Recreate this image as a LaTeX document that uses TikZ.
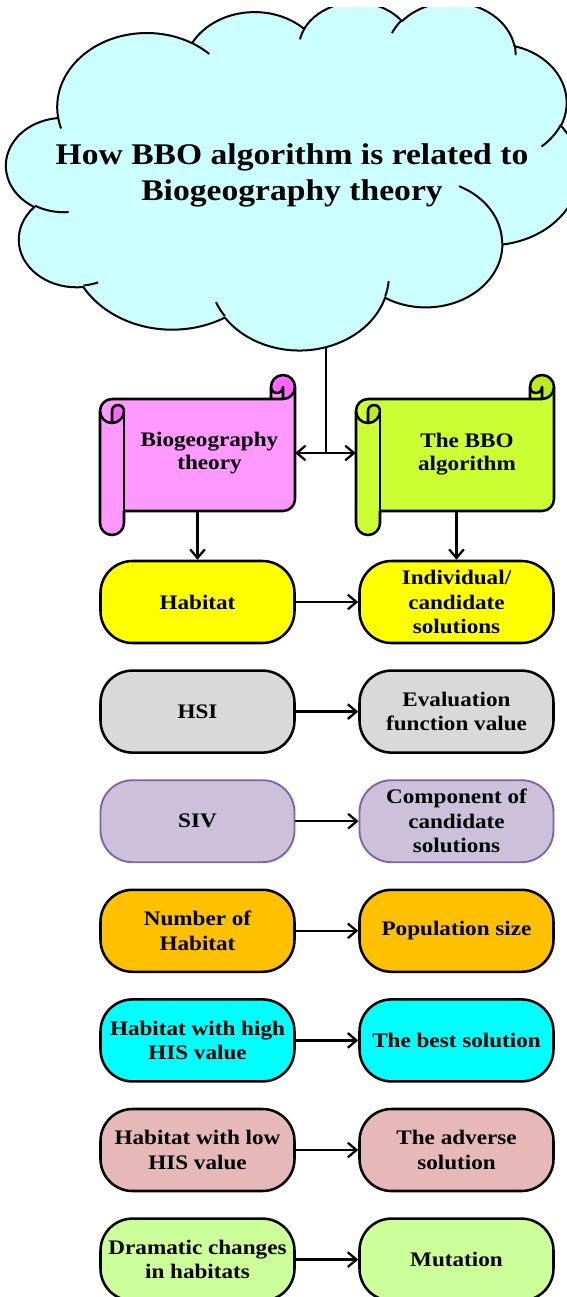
\documentclass[tikz,border=0pt]{standalone}
\usepackage{fontspec}
\setmainfont{Liberation Serif}[FakeStretch=1.12]
\usetikzlibrary{arrows.meta}

\definecolor{cloudfill}{HTML}{CCFFFF}
\definecolor{bioFill}{HTML}{FF99FF}
\definecolor{bioCurl}{HTML}{FF66FF}
\definecolor{bboFill}{HTML}{CCFF33}
\definecolor{bboCurl}{HTML}{BFEA1C}
\definecolor{rowA}{HTML}{FFFF00}
\definecolor{rowB}{HTML}{D9D9D9}
\definecolor{rowC}{HTML}{CCC0DA}
\definecolor{rowCline}{HTML}{8064A2}
\definecolor{rowD}{HTML}{FFC000}
\definecolor{rowE}{HTML}{00FFFF}
\definecolor{rowF}{HTML}{E6B9B8}
\definecolor{rowG}{HTML}{CCFF99}

% elliptical arc whose angles are visual (point) angles, as in DrawingML
\def\cloudarc#1#2#3#4{arc[start angle={atan2((#1)*sin(#3),(#2)*cos(#3))},
  delta angle={mod(atan2((#1)*sin((#3)+(#4)),(#2)*cos((#3)+(#4)))-atan2((#1)*sin(#3),(#2)*cos(#3))+720,360)},
  x radius=#1, y radius=#2]}

% horizontal scroll: #1 left, #2 top, #3 width, #4 height, #5 fill, #6 curl fill
\newcommand\scrollart[6]{%
  \begin{scope}[shift={(#1,#2)}]
    \def\sW{#3}\def\sH{#4}
    \fill[#5] (\sW,12) arc[start angle=0,delta angle=90,radius=12] -- (\sW-12,12)
      arc[start angle=0,delta angle=180,radius=6] -- (\sW-24,24) -- (12,24)
      arc[start angle=270,delta angle=-90,radius=12] -- (0,\sH-12)
      arc[start angle=180,delta angle=-180,radius=12] -- (24,\sH-24) -- (\sW-12,\sH-24)
      arc[start angle=90,delta angle=-90,radius=12] -- cycle;
    \fill[#6] (12,48) arc[start angle=90,delta angle=-90,radius=12]
      arc[start angle=0,delta angle=-180,radius=6] -- cycle;
    \fill[#6] (\sW-12,24) arc[start angle=90,delta angle=-270,radius=12]
      arc[start angle=180,delta angle=-180,radius=6] -- cycle;
    \draw[scrollline] (0,36) arc[start angle=180,delta angle=90,radius=12] -- (\sW-24,24) -- (\sW-24,12)
      arc[start angle=180,delta angle=180,radius=12] -- (\sW,\sH-36)
      arc[start angle=0,delta angle=90,radius=12] -- (24,\sH-24) -- (24,\sH-12)
      arc[start angle=0,delta angle=180,radius=12] -- cycle;
    \draw[scrollline] (\sW-24,24) -- (\sW-12,24) arc[start angle=90,delta angle=-90,radius=12];
    \draw[scrollline] (\sW-12,24) -- (\sW-12,12) arc[start angle=0,delta angle=180,radius=6];
    \draw[scrollline] (12,48) -- (12,36) arc[start angle=180,delta angle=180,radius=6]
      arc[start angle=0,delta angle=180,radius=12];
    \draw[scrollline] (24,36) -- (24,\sH-24);
  \end{scope}}

\tikzset{
  scrollline/.style={line width=1.9pt, line join=round},
  pill/.style={draw=black, line width=1.9pt, rounded corners=24pt,
    minimum width=145.5pt, minimum height=61.5pt, inner sep=1pt, align=center,
    font=\fontsize{15.5}{18.4}\selectfont\bfseries},
  scrolltext/.style={inner sep=0pt, align=center,
    font=\fontsize{15.5}{17}\selectfont\bfseries},
  frame/.style={inner sep=0pt, minimum width=146pt, minimum height=120pt},
  wire/.style={line width=1.7pt},
  tip/.style={Straight Barb[length=6.5pt,width=11pt]},
  link/.style={line width=1.7pt, -{Straight Barb[length=6.5pt,width=11pt]}},
  twoway/.style={line width=1.7pt, {Straight Barb[length=6.5pt,width=11pt]}-{Straight Barb[length=6.5pt,width=11pt]}}
}

\begin{document}
\begin{tikzpicture}[x=0.75pt,y=-0.75pt,line join=round]
\useasboundingbox (0,0) rectangle (567,1297);
\fill[white] (0,0) rectangle (567,1297);

% stem leaving the cloud (the cloud is painted over its top end)
\coordinate (cloudfoot) at (326,320);
\coordinate (hub) at (326,453);
\draw[wire] (cloudfoot) -- (hub);

% cloud
\begin{scope}
  \clip (0,7) rectangle (567,1297);
  \begin{scope}[shift={(6.3,1.25)}]
    \begin{scope}[x=0.99479pt,y=-0.60417pt]
      \filldraw[fill=cloudfill,draw=black,line width=1.5pt]
        (39.00,143.70)
        \cloudarc{67.53}{91.90}{-190.4875}{123.7805}
        \cloudarc{53.33}{72.67}{-144.1024}{89.9452}
        \cloudarc{43.65}{59.45}{-145.8079}{99.7230}
        \cloudarc{48.57}{65.95}{-130.9861}{117.2417}
        \cloudarc{53.33}{72.73}{-78.7089}{109.0269}
        \cloudarc{67.75}{92.20}{-46.2673}{130.2690}
        \cloudarc{57.85}{78.67}{0.6250}{114.0333}
        \cloudarc{67.52}{92.15}{22.4516}{115.1726}
        \cloudarc{77.20}{105.43}{66.2426}{75.7110}
        \cloudarc{43.60}{59.18}{-274.9421}{146.7356}
        \cloudarc{43.45}{59.45}{-246.8285}{152.5189}
        -- cycle;
      \draw[line width=1.5pt]
        (46.93,261.77) \cloudarc{43.45}{59.45}{86.7420}{26.4295}
        (69.28,348.99) \cloudarc{43.60}{59.18}{73.6105}{11.4475}
        (164.78,390.90) \cloudarc{67.52}{92.15}{137.6242}{14.0811}
        (288.27,347.51) \cloudarc{67.52}{92.15}{6.4533}{15.9984}
        (341.29,229.54) \cloudarc{57.85}{78.67}{-70.2924}{70.9174}
        (417.98,153.54) \cloudarc{53.33}{72.73}{30.3180}{27.7515}
        (383.24,54.26) \cloudarc{48.57}{65.95}{-13.7443}{14.8589}
        (290.78,39.52) \cloudarc{48.57}{65.95}{-149.1815}{18.1954}
        (221.41,47.20) \cloudarc{43.65}{59.45}{-163.4943}{17.6864}
        (140.00,51.92) \cloudarc{67.53}{91.90}{-66.7070}{12.3194}
        (41.27,157.89) \cloudarc{67.53}{91.90}{157.6544}{11.8582};
    \end{scope}
  \end{scope}
\end{scope}
\node[inner sep=0pt, align=center, font=\fontsize{22.5}{27}\selectfont\bfseries] (title) at (292,175)
  {How BBO algorithm is related to\\Biogeography theory};

% the two scrolls
\scrollart{100}{375}{195}{160}{bioFill}{bioCurl}
\scrollart{356}{375}{198}{160}{bboFill}{bboCurl}
\node[frame] (bio) at (197.5,455) {};
\node[frame, minimum width=148.5pt] (bbo) at (455,455) {};
\node[scrolltext] (biotext) at (209.5,453) {Biogeography\\theory};
\node[scrolltext] (bbotext) at (467,454) {The BBO\\algorithm};
\draw[twoway] (bio.east |- hub) -- (bbo.west |- hub);

% rows of corresponding concepts
\node[pill, fill=rowA] (habitat) at (197.5,602) {Habitat};
\node[pill, fill=rowA] (indiv) at (456.5,602) {Individual/\\candidate\\solutions};
\node[pill, fill=rowB] (hsi) at (197.5,711.6) {HSI};
\node[pill, fill=rowB] (evalv) at (456.5,711.6) {Evaluation\\function value};
\node[pill, fill=rowC, draw=rowCline, line width=1.4pt] (siv) at (197.5,821.2) {SIV};
\node[pill, fill=rowC, draw=rowCline, line width=1.4pt] (comp) at (456.5,821.2) {Component of\\candidate\\solutions};
\node[pill, fill=rowD] (numhab) at (197.5,930.8) {Number of\\Habitat};
\node[pill, fill=rowD] (popsize) at (456.5,930.8) {Population size};
\node[pill, fill=rowE] (highhis) at (197.5,1040.4) {Habitat with high\\HIS value};
\node[pill, fill=rowE] (best) at (456.5,1040.4) {The best solution};
\node[pill, fill=rowF] (lowhis) at (197.5,1150) {Habitat with low\\HIS value};
\node[pill, fill=rowF] (adverse) at (456.5,1150) {The adverse\\solution};
\node[pill, fill=rowG] (dramatic) at (197.5,1259.6) {Dramatic changes\\in habitats};
\node[pill, fill=rowG] (mutation) at (456.5,1259.6) {Mutation};

% scroll feet to the first row
\coordinate (biofoot) at (197.5,511);
\coordinate (bbofoot) at (456.5,511);
\draw[link] (biofoot) -- (habitat.north);
\draw[link] (bbofoot) -- (indiv.north);

% left concept to right concept
\foreach \a/\b in {habitat/indiv, hsi/evalv, siv/comp, numhab/popsize,
                   highhis/best, lowhis/adverse, dramatic/mutation}
  \draw[link] (\a.east) -- (\b.west);
\end{tikzpicture}
\end{document}
